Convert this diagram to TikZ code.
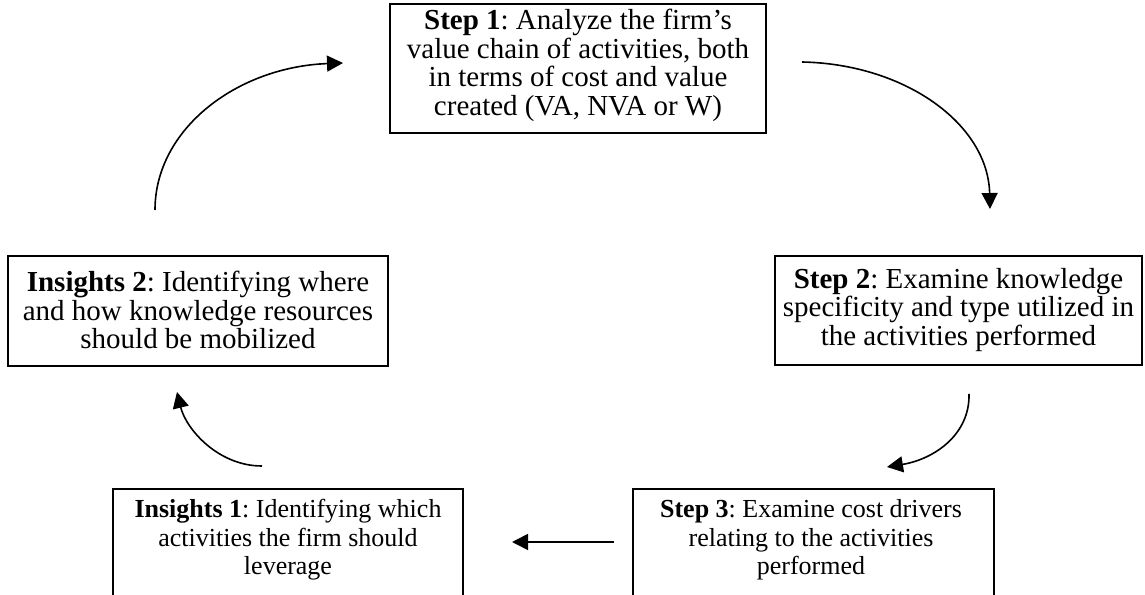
\documentclass[tikz,border=0pt]{standalone}
\usepackage{fontspec}
\setmainfont{Liberation Serif}
\usetikzlibrary{arrows.meta}
\begin{document}
\frenchspacing
\begin{tikzpicture}[x=1pt,y=1pt,
  frame/.style={draw=black, line width=1.6pt, inner sep=0pt},
  txt/.style={align=center, inner sep=0pt, font=\fontsize{29}{28.5}\selectfont},
  txtsmall/.style={align=center, inner sep=0pt, font=\fontsize{26}{28.5}\selectfont},
  arr/.style={line width=1.6pt, -{Triangle[length=16pt,width=16pt]}}]
\useasboundingbox (0,0) rectangle (1145,594);
% boxes
\node[frame, minimum width=376pt, minimum height=129pt] (s1) at (578,525.5) {};
\node[txt] (s1t) at (578,528.5)
  {\textbf{Step 1}: Analyze the firm’s\\value chain of activities, both\\in terms of cost and value\\created (VA, NVA or W)};
\node[frame, minimum width=380pt, minimum height=110pt] (i2) at (198,283) {};
\node[txt] (i2t) at (198,284)
  {\textbf{Insights 2}: Identifying where\\and how knowledge resources\\should be mobilized};
\node[frame, minimum width=367pt, minimum height=109pt] (s2) at (958.5,283.5) {};
\node[txt] (s2t) at (958.5,284)
  {\textbf{Step 2}: Examine knowledge\\specificity and type utilized in\\the activities performed};
\node[frame, minimum width=350pt, minimum height=140pt, anchor=north] (i1) at (288,106) {};
\node[txtsmall] (i1t) at (288,54)
  {\textbf{Insights 1}: Identifying which\\activities the firm should\\leverage};
\node[frame, minimum width=361pt, minimum height=140pt, anchor=north] (s3) at (813.5,106) {};
\node[txtsmall] (s3t) at (811,54)
  {\textbf{Step 3}: Examine cost drivers\\relating to the activities\\performed};
% arrow end points
\coordinate (a1s) at (155,384);
\coordinate (a1e) at (343,531);
\coordinate (a2s) at (802,532);
\coordinate (a2e) at (990,385);
\coordinate (a3s) at (969,200);
\coordinate (a3e) at (887,127);
\coordinate (a4s) at (614,52);
\coordinate (a4e) at (512,52);
\coordinate (a5s) at (262,128);
\coordinate (a5e) at (177,202);
% arrows
\draw[arr] (a1s) .. controls (155,465) and (237,527) .. (a1e);
\draw[arr] (a2s) .. controls (905,530) and (988,470) .. (a2e);
\draw[arr] (a3s) .. controls (970,160) and (935,135) .. (a3e);
\draw[arr] (a4s) -- (a4e);
\draw[arr] (a5s) .. controls (218,128) and (186,165) .. (a5e);
\end{tikzpicture}
\end{document}
